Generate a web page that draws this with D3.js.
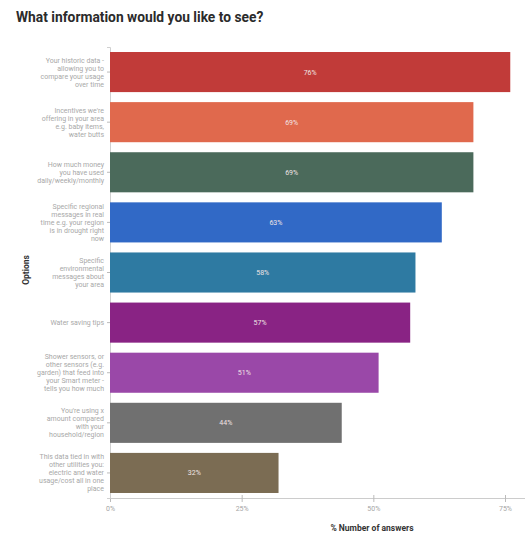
<!DOCTYPE html>
<html>
<head>
<meta charset="utf-8">
<script src="https://cdn.jsdelivr.net/npm/d3@7"></script>
<style>
  html, body { margin: 0; padding: 0; background: #ffffff; }
  svg { display: block; font-family: Roboto, "Liberation Sans", Arial, sans-serif; }
</style>
</head>
<body>
<svg id="chart" width="532" height="535"></svg>
<script>
// Survey options, each label pre-wrapped into lines
const options = [
  ["Your historic data -", "allowing you to", "compare your usage", "over time"],
  ["Incentives we're", "offering in your area", "e.g. baby items,", "water butts"],
  ["How much money", "you have used", "daily/weekly/monthly"],
  ["Specific regional", "messages in real", "time e.g. your region", "is in drought right", "now"],
  ["Specific", "environmental", "messages about", "your area"],
  ["Water saving tips"],
  ["Shower sensors, or", "other sensors (e.g.", "garden) that feed into", "your Smart meter -", "tells you how much"],
  ["You're using x", "amount compared", "with your", "household/region"],
  ["This data tied in with", "other utilities you:", "electric and water", "usage/cost all in one", "place"]
];
// Share of respondents (%) choosing each option
const shares = [76, 69, 69, 63, 58, 57, 51, 44, 32];
const barColors = ["#c13b39", "#e0694d", "#4b6a5b", "#3169c6", "#2e7aa2", "#892384", "#9a48a8", "#707070", "#7b6c53"];
const xTicks = [0, 25, 50, 75];

const svg = d3.select("#chart");
const left = 110, right = 505;

const x = d3.scaleLinear().domain([0, 75]).range([left, right]);
const y = d3.scaleBand()
  .domain(d3.range(options.length))
  .range([47, 498])
  .paddingInner(0.2)
  .paddingOuter(0.1);

// Title
svg.append("text")
  .attr("x", 16).attr("y", 22)
  .attr("font-size", 13.8).attr("font-weight", 700)
  .attr("fill", "#2b2b2b")
  .text("What information would you like to see?");

// X axis
const xAxis = svg.append("g")
  .attr("transform", "translate(0,498)")
  .call(d3.axisBottom(x).tickValues(xTicks).tickFormat(d => d + "%").tickSize(4).tickPadding(4));
xAxis.select(".domain").attr("stroke", "#cccccc").attr("d", `M${left},0.5H525`);
xAxis.selectAll(".tick line").attr("stroke", "#bbbbbb").attr("y1", -3);
xAxis.selectAll(".tick text").attr("fill", "#a5a5a5").attr("font-size", 7).attr("font-family", "Roboto, sans-serif");

// Y axis ticks
const yAxis = svg.append("g")
  .attr("transform", `translate(${left},0)`)
  .call(d3.axisLeft(y).tickSize(3).tickFormat(""));
yAxis.select(".domain").attr("stroke", "#d0d0d0");
yAxis.selectAll(".tick line").attr("stroke", "#bbbbbb");

// Wrapped option labels
const lineH = 8;
const labels = svg.append("g");
options.forEach((lines, i) => {
  const cy = y(i) + y.bandwidth() / 2;
  const t = labels.append("text")
    .attr("text-anchor", "end")
    .attr("font-size", 7)
    .attr("fill", "#a8a8a8");
  lines.forEach((ln, j) => {
    t.append("tspan")
      .attr("x", 104)
      .attr("y", cy + (j - (lines.length - 1) / 2) * lineH + 2.5)
      .text(ln);
  });
});

// Bars
svg.append("g").selectAll("rect")
  .data(shares)
  .join("rect")
  .attr("x", x(0))
  .attr("y", (d, i) => y(i))
  .attr("width", d => x(d) - x(0))
  .attr("height", y.bandwidth())
  .attr("fill", (d, i) => barColors[i]);

// Value labels centred in each bar
svg.append("g").selectAll("text")
  .data(shares)
  .join("text")
  .attr("x", d => (x(0) + x(d)) / 2)
  .attr("y", (d, i) => y(i) + y.bandwidth() / 2 + 2.5)
  .attr("text-anchor", "middle")
  .attr("font-size", 7)
  .attr("fill", "#f0e4e4")
  .text(d => d + "%");

// Axis titles
svg.append("text")
  .attr("transform", "translate(29,270) rotate(-90)")
  .attr("text-anchor", "middle")
  .attr("font-size", 8.5).attr("font-weight", 700)
  .attr("fill", "#333333")
  .text("Options");

svg.append("text")
  .attr("x", 372).attr("y", 531)
  .attr("text-anchor", "middle")
  .attr("font-size", 8.5).attr("font-weight", 700)
  .attr("fill", "#333333")
  .text("% Number of answers");
</script>
</body>
</html>
